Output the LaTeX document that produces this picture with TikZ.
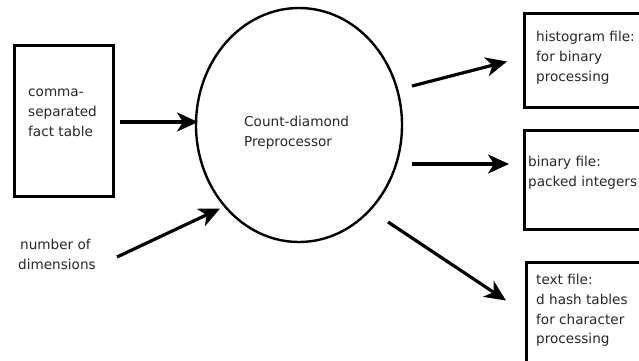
\documentclass[tikz,border=0pt]{standalone}
\usepackage{fontspec}
\setmainfont{DejaVu Sans}
\usetikzlibrary{arrows.meta,shapes.geometric}
\begin{document}
\begin{tikzpicture}[x=1bp,y=-1bp,
  filebox/.style={draw=black,line width=2.8bp,rectangle,inner sep=0pt,anchor=north west},
  lbl/.style={align=left,inner sep=0pt,anchor=west,font=\fontsize{13.6bp}{19.8bp}\selectfont,text=black!85},
  flow/.style={line width=3.2bp,-{Stealth[length=21bp,width=19bp,inset=6bp]}}
]
\useasboundingbox (0,0) rectangle (639,360);
\clip (0,0) rectangle (639,360);
% boxes
\node[filebox,minimum width=99bp,minimum height=151bp] (fact) at (13,44) {};
\node[filebox,minimum width=130bp,minimum height=94bp] (hist) at (523,12) {};
\node[filebox,minimum width=130bp,minimum height=99bp] (bin) at (523,129) {};
\node[filebox,minimum width=130bp,minimum height=120bp] (txt) at (525,261) {};
% ellipse
\node[draw=black,line width=2.4bp,ellipse,minimum width=206bp,minimum height=234bp,inner sep=0pt] (pre) at (299,125) {};
% texts
\node[lbl] (factt) at (28,112.5) {comma-\\separated\\fact table};
\node[lbl] (pret) at (244,132.5) {Count-diamond\\Preprocessor};
\node[lbl] (dims) at (18,254.5) {\hspace*{2bp}number of\\dimensions};
\node[lbl] (histt) at (536,57.5) {histogram file:\\for binary\\processing};
\node[lbl] (bint) at (528,173) {binary file:\\packed integers};
\node[lbl] (txtt) at (536,310.5) {text file:\\d hash tables\\for character\\processing};
% connector ends
\coordinate (a1s) at (120,122);
\coordinate (a1e) at (198,122);
\coordinate (a2s) at (117,257);
\coordinate (a2e) at (220,208.5);
\coordinate (a3s) at (412,86);
\coordinate (a3e) at (507,61.5);
\coordinate (a4s) at (412,164);
\coordinate (a4e) at (509,164);
\coordinate (a5s) at (388,222);
\coordinate (a5e) at (506,300.5);
\draw[flow] (a1s) -- (a1e);
\draw[flow] (a2s) -- (a2e);
\draw[flow] (a3s) -- (a3e);
\draw[flow] (a4s) -- (a4e);
\draw[flow] (a5s) -- (a5e);
\end{tikzpicture}
\end{document}
